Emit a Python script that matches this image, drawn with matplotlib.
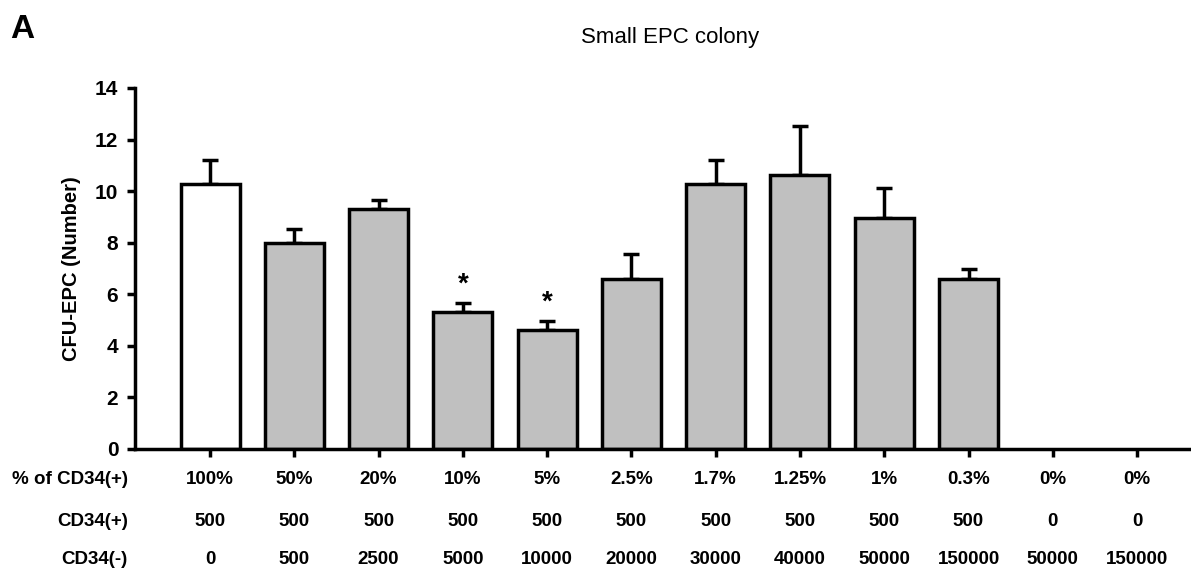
import matplotlib
matplotlib.use("Agg")
import matplotlib.pyplot as plt
import matplotlib.transforms as mtransforms

plt.rcParams['font.family'] = ['Liberation Sans', 'DejaVu Sans']

pct_labels = ["100%", "50%", "20%", "10%", "5%", "2.5%", "1.7%", "1.25%", "1%", "0.3%", "0%", "0%"]
cd34_pos = ["500", "500", "500", "500", "500", "500", "500", "500", "500", "500", "0", "0"]
cd34_neg = ["0", "500", "2500", "5000", "10000", "20000", "30000", "40000", "50000", "150000", "50000", "150000"]
means = [10.27, 7.97, 9.29, 5.30, 4.60, 6.61, 10.27, 10.62, 8.97, 6.61, 0, 0]
errs = [0.93, 0.56, 0.36, 0.37, 0.37, 0.95, 0.93, 1.91, 1.17, 0.37, 0, 0]
signif = [False, False, False, True, True, False, False, False, False, False, False, False]

x = list(range(len(means)))
colors = ["white"] + ["#c0c0c0"] * (len(means) - 1)

fig = plt.figure(figsize=(11.91, 5.77), dpi=100)
ax = fig.add_axes([135 / 1191, 1 - 449 / 577, 1 - 135 / 1191, (449 - 88) / 577])

# only bars with a value get drawn (the two 0% groups are empty)
drawn = [i for i in x if means[i] > 0]
ax.bar([x[i] for i in drawn], [means[i] for i in drawn], width=0.7,
       color=[colors[i] for i in drawn], edgecolor="black", linewidth=2.5, zorder=2)
ax.errorbar([x[i] for i in drawn], [means[i] for i in drawn],
            yerr=[[0] * len(drawn), [errs[i] for i in drawn]], fmt="none",
            ecolor="black", elinewidth=2.5, capsize=6, capthick=2.5, zorder=1)

for xi, m, e, s in zip(x, means, errs, signif):
    if s:
        ax.text(xi, m + e + 0.2, "*", ha="center", va="bottom", fontsize=20, fontweight="bold")

ax.set_xlim(-0.89, 11.64)
ax.set_ylim(0, 14)
ax.set_yticks(range(0, 15, 2))
ax.tick_params(axis="y", labelsize=15, width=2.5, length=6, direction="out", pad=6)
ax.tick_params(axis="x", width=2.5, length=6, direction="out", labelbottom=False)
ax.set_xticks(x)
for lbl in ax.get_yticklabels():
    lbl.set_fontweight("bold")
ax.spines["top"].set_visible(False)
ax.spines["right"].set_visible(False)
ax.spines["left"].set_linewidth(2.5)
ax.spines["bottom"].set_linewidth(2.5)

ax.set_ylabel("CFU-EPC (Number)", fontsize=14.5, fontweight="bold", labelpad=10)

trans = mtransforms.blended_transform_factory(ax.transData, fig.transFigure)
rows = [("% of CD34(+)", pct_labels, 1 - 480 / 577),
        ("CD34(+)", cd34_pos, 1 - 521 / 577),
        ("CD34(-)", cd34_neg, 1 - 560 / 577)]
for name, labels, yy in rows:
    fig.text(128 / 1191, yy, name, ha="right", va="center", fontsize=13.5, fontweight="bold")
    for xi, t in zip(x, labels):
        ax.text(xi, yy, t, transform=trans, ha="center", va="center", fontsize=13.5, fontweight="bold")

fig.text(670 / 1191, 1 - 38 / 577, "Small EPC colony", ha="center", va="center", fontsize=16)
fig.text(10 / 1191, 1 - 29 / 577, "A", ha="left", va="center", fontsize=24, fontweight="bold")

fig.savefig("out.png", dpi=100)
